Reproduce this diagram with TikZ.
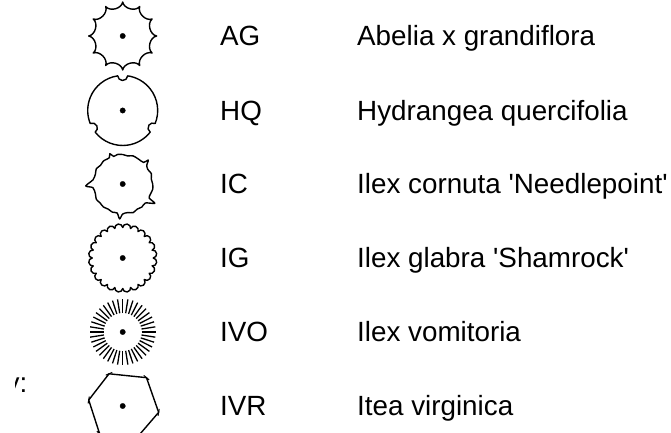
\documentclass[tikz,border=0pt]{standalone}
\usepackage{fontspec}
\setmainfont{Liberation Sans}
\begin{document}
\begin{tikzpicture}[x=1pt,y=1pt,
	dot/.style={ circle, draw, very thin, fill, inner sep=0pt, minimum size=5.5pt },
	outline/.style={ line width=1.4pt, line join=round },
	ray/.style={ line width=1.3pt },
	tick/.style={ line width=1pt },
	code/.style={ anchor=base west, inner sep=0pt, font=\fontsize{27.8}{32}\selectfont },
	species/.style={ code }
]
\useasboundingbox (0,0) rectangle (671,-433);

% key label, cut at the left border
\begin{scope}
	\clip (15,-350) rectangle (40,-410);
	\node[code, anchor=base east] at (27.5,-392) (key) {Key:};
\end{scope}

% AG
\begin{scope}[shift={(122.7,-36)}]
	\node[dot] at (0,0) (d1) {};
	\draw[outline] (90:34) foreach \a in {120,150,...,450} { to[bend left=65] (\a:34) } -- cycle;
\end{scope}
\node[code] at (220,-46) (c1) {AG};
\node[species] at (357,-46) (s1) {Abelia x grandiflora};

% HQ
\begin{scope}[shift={(122.7,-110.5)}]
	\node[dot] at (0,0) (d2) {};
	\draw[outline] (98.2:35) foreach \b in {210,330,450} {
		arc[start angle=\b-111.8, end angle=\b-8.2, radius=35]
		arc[start angle=\b-94.1, end angle=\b-265.9, radius=5] } -- cycle;
\end{scope}
\node[code] at (220,-120.5) (c2) {HQ};
\node[species] at (357,-120.5) (s2) {Hydrangea quercifolia};

% IC
\begin{scope}[shift={(122.7,-184)}]
	\node[dot] at (0,0) (d3) {};
	\draw[outline] plot[smooth cycle, tension=0.45] coordinates {
		(0:30) (10:29) (20:30.5) (30:29) (38:30.5) (43:35) (46:30) (58:29.5)
		(70:30) (80:28.5) (90:29.5) (100:30) (108:29) (113:33) (117:29.5)
		(130:30) (140:29) (150:30.5) (160:29) (172:30) (183:37) (187:30)
		(200:29) (210:30.5) (220:29.5) (230:30) (240:29) (250:30) (259:29.5)
		(265:35) (270:30) (280:29) (290:30.5) (300:29) (310:30) (320:29.5)
		(329:37.5) (332:30) (340:29.5) (350:30.5)};
\end{scope}
\node[code] at (220,-193) (c3) {IC};
\node[species] at (357,-193) (s3) {Ilex cornuta \textquotesingle Needlepoint\textquotesingle};

% IG
\begin{scope}[shift={(122.7,-258)}]
	\node[dot] at (0,0) (d4) {};
	\draw[outline] (0:30.5) foreach \m in {7.5,22.5,...,352.5} {
		arc[start angle=\m-90, end angle=\m+90, radius=3.98] } -- cycle;
\end{scope}
\node[code] at (220,-267) (c4) {IG};
\node[species] at (357,-267) (s4) {Ilex glabra \textquotesingle Shamrock\textquotesingle};

% IVO
\begin{scope}[shift={(122.7,-332)}]
	\node[dot] at (0,0) (d5) {};
	\foreach \a in {0,9,...,351}
		\draw[ray] (\a:19) -- (\a:33);
\end{scope}
\node[code] at (220,-341) (c5) {IVO};
\node[species] at (357,-341) (s5) {Ilex vomitoria};

% IVR
\begin{scope}[shift={(122.7,-406)}]
	\node[dot] at (0,0) (d6) {};
	\draw[outline] (170:34.5) -- (113:35) -- (50:37) -- (-10:36.5) -- (-70:36) -- (-130:36) -- cycle;
	\foreach \a/\r in {170/34.5,113/35,50/37,-10/36.5,-70/36,-130/36}
		\draw[tick] (\a:\r) ++(\a+90:3.5) -- ++(\a-90:7);
\end{scope}
\node[code] at (220,-415) (c6) {IVR};
\node[species] at (357,-415) (s6) {Itea virginica};

\end{tikzpicture}
\end{document}
